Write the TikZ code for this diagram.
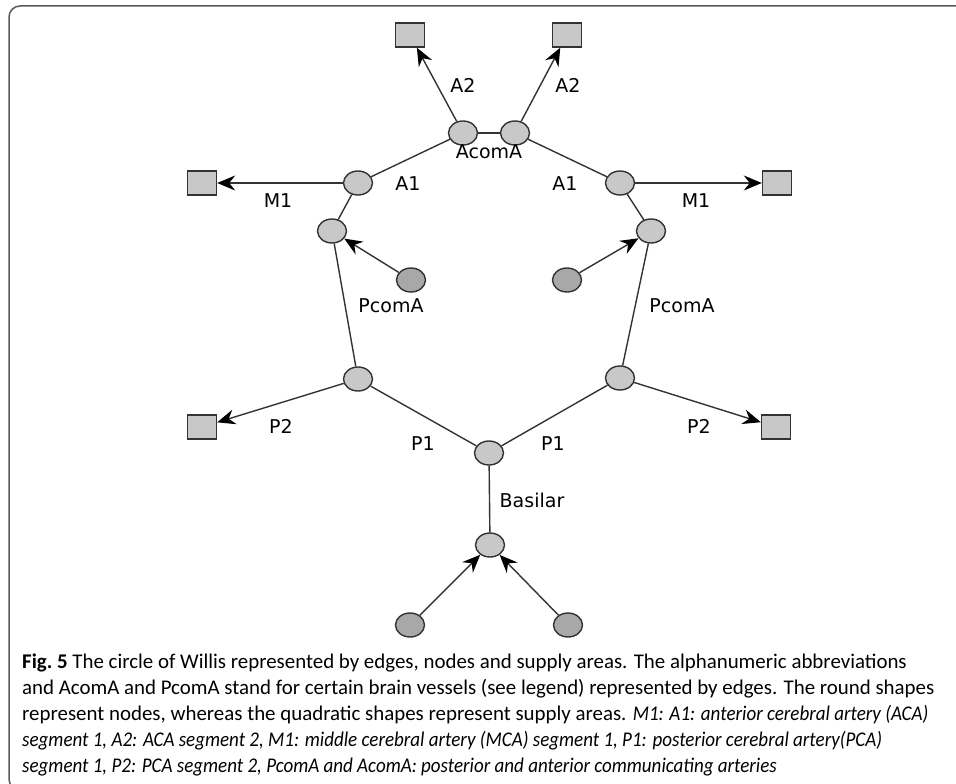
\documentclass[tikz,border=0pt]{standalone}
\usepackage{fontspec}
\setmainfont{Carlito}[ItalicFeatures={FakeStretch=0.91}]
\newfontfamily\labelfont{DejaVu Sans}
\usetikzlibrary{arrows.meta,shapes.geometric}

\definecolor{nodegray}{HTML}{C8C8C8}
\definecolor{srcgray}{HTML}{A8A8A8}
\definecolor{edgegray}{HTML}{333333}

\begin{document}
\begin{tikzpicture}[x=1pt,y=-1pt,
	vnode/.style={ellipse, draw=edgegray, line width=1.4pt, fill=nodegray, minimum width=29pt, minimum height=24pt, inner sep=0pt},
	snode/.style={vnode, fill=srcgray},
	area/.style={rectangle, draw=edgegray, line width=1.4pt, fill=nodegray, minimum width=29pt, minimum height=24pt, inner sep=0pt},
	vlabel/.style={font=\labelfont\fontsize{19}{21}\selectfont, text=black, inner sep=0pt},
	vessel/.style={draw=edgegray, line width=1.4pt},
	flow/.style={vessel, -{Stealth[length=18pt, width=15pt, inset=6pt, black]}},
	capline/.style={anchor=base west, inner sep=0pt, font=\fontsize{20.9}{26}\selectfont}]
	\useasboundingbox (0,0) rectangle (956,784);
	% frame
	\draw[draw=gray!70!black, line width=1.5pt, rounded corners=11pt] (960,6) -- (9,6) -- (9,790) -- (40,790);

	% supply areas
	\node[area] (S1) at (410,35) {};
	\node[area] (S2) at (567,35) {};
	\node[area] (S3) at (202,183) {};
	\node[area] (S4) at (777,183) {};
	\node[area] (S5) at (202,427) {};
	\node[area] (S6) at (776,427) {};

	% nodes
	\node[vnode] (N1) at (463,133) {};
	\node[vnode] (N2) at (515,133) {};
	\node[vnode] (N3) at (358,183) {};
	\node[vnode] (N4) at (620,183) {};
	\node[vnode] (N5) at (332,231) {};
	\node[vnode] (N6) at (651,231) {};
	\node[vnode] (N7) at (358,379) {};
	\node[vnode] (N8) at (620,378) {};
	\node[vnode] (N9) at (489,453) {};
	\node[vnode] (N10) at (490,545) {};
	\node[snode] (Q1) at (411,280) {};
	\node[snode] (Q2) at (567,280) {};
	\node[snode] (Q3) at (410,625) {};
	\node[snode] (Q4) at (568,625) {};

	% edges
	\draw[vessel] (N1) -- (N2);
	\draw[vessel] (N3) -- (N1);
	\draw[vessel] (N4) -- (N2);
	\draw[vessel] (N3) -- (N5);
	\draw[vessel] (N4) -- (N6);
	\draw[vessel] (N5) -- (N7);
	\draw[vessel] (N6) -- (N8);
	\draw[vessel] (N7) -- (N9);
	\draw[vessel] (N8) -- (N9);
	\draw[vessel] (N9) -- (N10);
	\draw[flow] (N1) -- (S1);
	\draw[flow] (N2) -- (S2);
	\draw[flow] (N3) -- (S3);
	\draw[flow] (N4) -- (S4);
	\draw[flow] (N7) -- (S5);
	\draw[flow] (N8) -- (S6);
	\draw[flow] (Q1) -- (N5);
	\draw[flow] (Q2) -- (N6);
	\draw[flow] (Q3) -- (N10);
	\draw[flow] (Q4) -- (N10);

	% labels
	\node[vlabel] (L1) at (463,85) {A2};
	\node[vlabel] (L2) at (568,85) {A2};
	\node[vlabel] (L3) at (489,152) {AcomA};
	\node[vlabel] (L4) at (408,184) {A1};
	\node[vlabel] (L5) at (565,184) {A1};
	\node[vlabel] (L6) at (278,201) {M1};
	\node[vlabel] (L7) at (696,201) {M1};
	\node[vlabel] (L8) at (391,306) {PcomA};
	\node[vlabel] (L9) at (682,306) {PcomA};
	\node[vlabel] (L10) at (281,426) {P2};
	\node[vlabel] (L11) at (699,426) {P2};
	\node[vlabel] (L12) at (423,444) {P1};
	\node[vlabel] (L13) at (553,444) {P1};
	\node[vlabel] (L14) at (532,500) {Basilar};

	% caption
	\node[capline] (C1) at (22,668) {\textbf{Fig.~5} The circle of Willis represented by edges, nodes and supply areas. The alphanumeric abbreviations};
	\node[capline] (C2) at (22,694) {and AcomA and PcomA stand for certain brain vessels (see legend) represented by edges. The round shapes};
	\node[capline] (C3) at (22,720) {represent nodes, whereas the quadratic shapes represent supply areas. \textit{M1: A1: anterior cerebral artery (ACA)}};
	\node[capline] (C4) at (22,746) {\textit{segment 1, A2: ACA segment 2, M1: middle cerebral artery (MCA) segment 1, P1: posterior cerebral artery(PCA)}};
	\node[capline] (C5) at (22,772) {\textit{segment 1, P2: PCA segment 2, PcomA and AcomA: posterior and anterior communicating arteries}};
\end{tikzpicture}
\end{document}
